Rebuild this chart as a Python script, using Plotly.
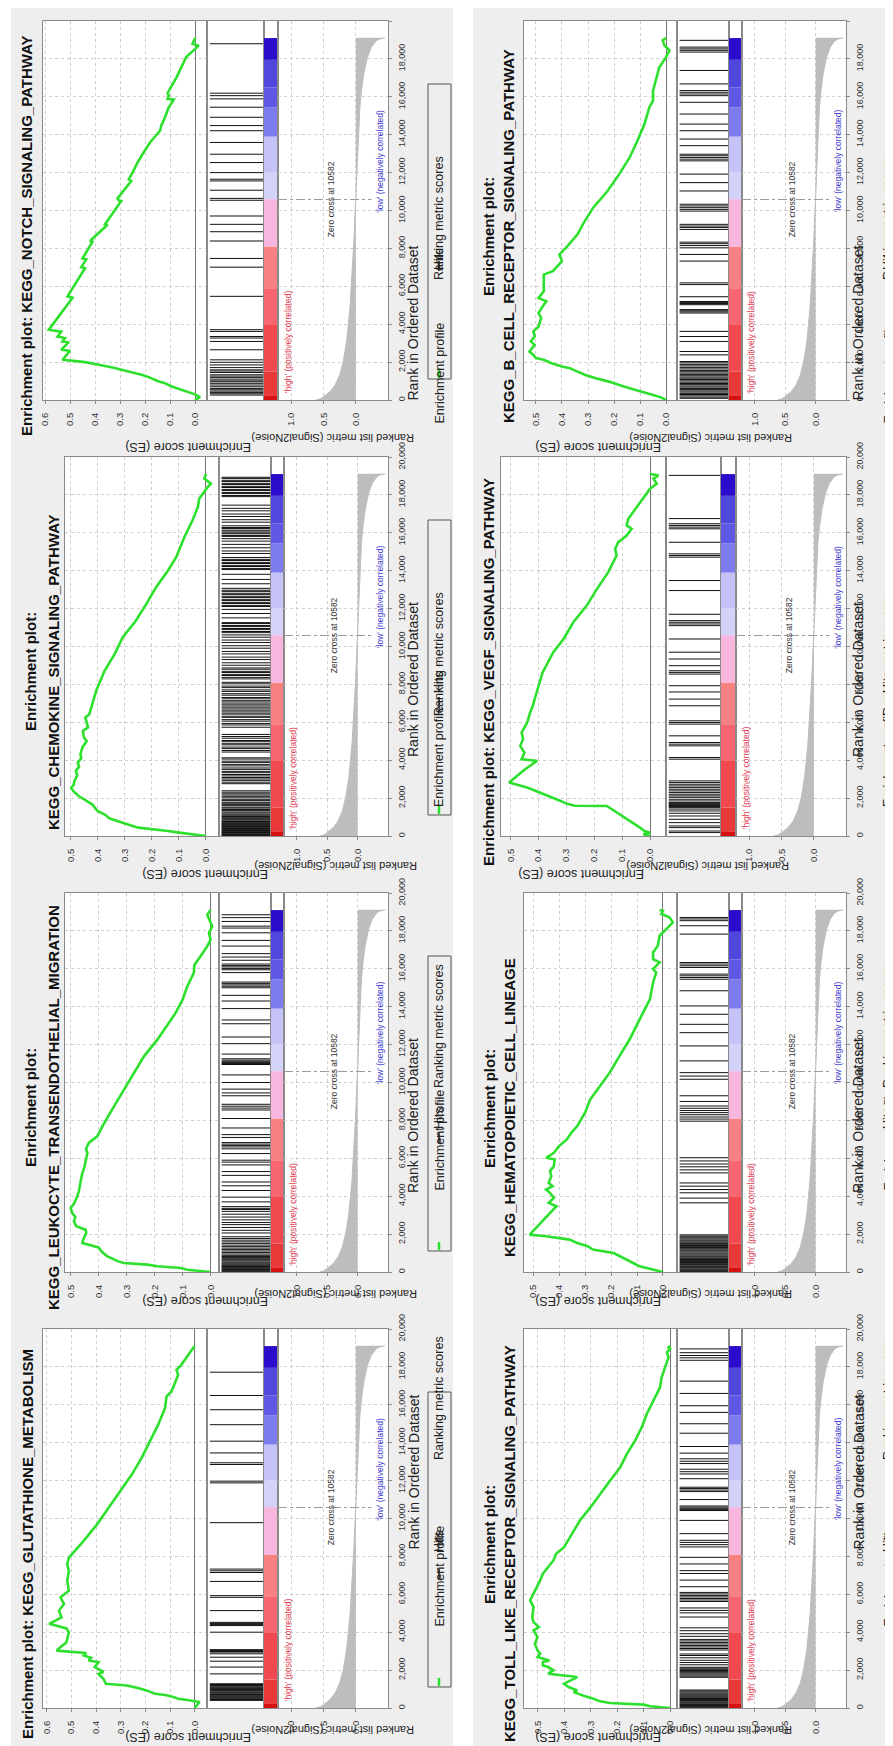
import plotly.graph_objects as go

FIG_W, FIG_H = 893, 1746
FONT = "Liberation Sans, Arial, sans-serif"

# ---------------- shared data ----------------
rank_tick_vals = [0, 2000, 4000, 6000, 8000, 10000, 12000, 14000, 16000, 18000, 20000]
rank_tick_text = ["0", "2,000", "4,000", "6,000", "8,000", "10,000", "12,000", "14,000", "16,000", "18,000", "20,000"]
metric_tick_vals = [1.0, 0.5, 0.0]
metric_tick_text = ["1.0", "0.5", "0.0"]
zero_cross_rank = 10582

metric_rank = [0, 60, 176, 441, 794, 1324, 2030, 3089, 4854, 6620, 8385, 10150, 10582, 11915,
               13680, 15446, 16328, 17211, 18094, 18623, 18976, 19060, 19110]
metric_value = [0.62, 0.55, 0.50, 0.40, 0.32, 0.25, 0.195, 0.144, 0.092, 0.056, 0.031, 0.01, 0.0, -0.015,
                -0.036, -0.062, -0.087, -0.123, -0.18, -0.24, -0.32, -0.38, -0.45]

cbar_start = [0, 250, 1500, 4000, 5900, 8100, 10600, 12000, 13900, 15450, 16500, 17950]
cbar_end = [250, 1500, 4000, 5900, 8100, 10600, 12000, 13900, 15450, 16500, 17950, 19100]
cbar_color = ["#d81010", "#e83838", "#f04a50", "#f86672", "#f88282", "#f7b6de",
              "#d4d2f8", "#c4c2f6", "#7c7cee", "#5e58e4", "#5048dc", "#2a0ccc"]

# ---------------- per-panel data ----------------
notch_title = ["Enrichment plot: KEGG_NOTCH_SIGNALING_PATHWAY"]
notch_es_rank = [0, 150, 300, 440, 560, 700, 880, 1000, 1180, 1320, 1450, 1590, 1710, 1850, 2000, 2120, 2600,
                 2650, 3050, 3090, 3270, 3350, 3600, 3700, 5400, 5470, 6950, 7010, 7420, 7470, 8350, 8390, 9250,
                 9270, 10500, 10540, 10640, 11560, 11650, 12000, 12530, 12970, 13590, 14210, 14480, 14920, 15450,
                 15850, 15890, 16060, 16190, 17000, 18100, 18700, 18800, 19100]
notch_es = [0.0, -0.02, 0.0, 0.035, 0.06, 0.09, 0.12, 0.15, 0.18, 0.21, 0.25, 0.29, 0.33, 0.38, 0.44, 0.53, 0.50,
            0.535, 0.505, 0.53, 0.52, 0.55, 0.535, 0.585, 0.49, 0.51, 0.44, 0.455, 0.435, 0.45, 0.41, 0.42, 0.35,
            0.36, 0.295, 0.305, 0.31, 0.255, 0.265, 0.25, 0.23, 0.21, 0.18, 0.14, 0.135, 0.12, 0.105,
            0.085, 0.11, 0.105, 0.11, 0.075, 0.035, -0.015, 0.01, 0.0]
notch_hits = [260, 330, 400, 470, 540, 610, 700, 790, 880, 960, 1010, 1100, 1180, 1260, 1330, 1450, 1530, 1590,
              1710, 1850, 1990, 2120, 2650, 3090, 3270, 3350, 3620, 3710, 5470, 7010, 7470, 8390, 8880, 9270,
              9710, 10540, 10640, 11070, 11560, 11650, 12000, 12530, 12970, 13590, 14210, 14480, 14920, 15450,
              15890, 16060, 16190, 18800]

chem_title = ["Enrichment plot:", "KEGG_CHEMOKINE_SIGNALING_PATHWAY"]
chem_es_rank = [0, 90, 180, 260, 350, 440, 530, 620, 700, 790, 900, 970, 1100, 1320, 1500, 1670, 1940, 2110, 2380,
                2560, 2700, 2910, 3200, 3440, 3650, 3880, 4100, 4320, 4700, 5000, 5200, 5550, 5730, 6000, 6260,
                6430, 6960, 7670, 8720, 9600, 10490, 11370, 12250, 13130, 14010, 14710, 15770, 16650, 17360,
                17800, 18410, 18590, 18860, 19100]
chem_es = [0.0, 0.06, 0.10, 0.14, 0.20, 0.25, 0.27, 0.29, 0.31, 0.33, 0.35, 0.36, 0.37, 0.40, 0.41, 0.42, 0.45,
           0.47, 0.49, 0.497, 0.488, 0.485, 0.475, 0.48, 0.468, 0.473, 0.46, 0.463, 0.455, 0.44, 0.45, 0.454, 0.435,
           0.44, 0.445, 0.43, 0.42, 0.405, 0.374, 0.337, 0.307, 0.258, 0.22, 0.184, 0.14, 0.11, 0.08, 0.05, 0.03,
           0.025, -0.006, -0.018, 0.006, 0.0]
chem_hits = [15, 45, 80, 110, 150, 185, 215, 250, 290, 320, 355, 395, 430, 470, 500, 540, 575, 615, 650, 690, 730,
             765, 800, 860, 915, 985, 1030, 1095, 1150, 1215, 1265, 1340, 1395, 1470, 1520, 1600, 1655, 1730, 1780,
             1865, 1915, 2010, 2075, 2160, 2225, 2310, 2385, 2760, 2840, 2935, 3010, 3085, 3170, 3245, 3340, 3410,
             3515, 3590, 3700, 3780, 3885, 3950, 4060, 4125, 4430, 4510, 4610, 4690, 4810, 4870, 4975, 5040, 5160,
             5250, 5360, 5740, 5860, 5940, 6060, 6140, 6260, 6320, 6430, 6490, 6590, 6650, 6750, 6810, 6910, 6970,
             7070, 7140, 7240, 7310, 7430, 7510, 7630, 7710, 7830, 7910, 8030, 8110, 8290, 8370, 8470, 8530, 8630,
             8690, 8800, 8870, 9010, 9140, 9310, 9440, 9610, 9740, 9910, 10040, 10210, 10340, 10490, 10610, 10730,
             10790, 10890, 10950, 11050, 11110, 11210, 11260, 11510, 11740, 11960, 12110, 12170, 12270, 12330,
             12430, 12490, 12590, 12650, 12750, 12810, 12910, 12970, 13070, 13310, 13540, 13810, 14060, 14120,
             14220, 14280, 14380, 14440, 14540, 14600, 14700, 14910, 15040, 15210, 15390, 15560, 15690, 15810,
             15860, 15950, 16000, 16090, 16140, 16230, 16280, 16370, 16560, 16690, 16860, 16990, 17160, 17290,
             17460, 17910, 17970, 18070, 18130, 18230, 18290, 18390, 18450, 18550, 18610, 18710, 18770, 18870, 18930]

leuk_title = ["Enrichment plot:", "KEGG_LEUKOCYTE_TRANSENDOTHELIAL_MIGRATION"]
leuk_es_rank = [0, 120, 210, 300, 390, 475, 560, 650, 740, 830, 960, 1090, 1300, 1530, 1700, 1880, 2060, 2230, 2410,
                2670, 2900, 3110, 3380, 3600, 3990, 4300, 4700, 5100, 5580, 5900, 6280, 6500, 6810, 7160, 7860,
                8740, 9620, 10500, 11380, 12260, 13140, 13670, 14370, 15080, 15780, 16200, 16660, 17190, 17540,
                17890, 18240, 18590, 18850, 19100]
leuk_es = [0.0, 0.083, 0.107, 0.19, 0.226, 0.31, 0.33, 0.345, 0.36, 0.37, 0.38, 0.39, 0.40, 0.458, 0.455, 0.45,
           0.444, 0.446, 0.48, 0.488, 0.483, 0.494, 0.50, 0.488, 0.476, 0.47, 0.464, 0.46, 0.45, 0.445, 0.44, 0.445,
           0.435, 0.405, 0.38, 0.345, 0.31, 0.274, 0.238, 0.19, 0.149, 0.125, 0.10, 0.083, 0.06, 0.058, 0.036,
           0.012, 0.0, 0.006, -0.006, 0.006, 0.012, 0.0]
leuk_hits = [15, 50, 90, 130, 170, 210, 250, 290, 330, 380, 430, 480, 530, 590, 650, 700, 760, 820, 880, 950, 1030,
             1110, 1180, 1260, 1340, 1420, 1510, 1590, 1680, 1770, 1860, 2060, 2200, 2350, 2500, 2610, 2750, 2900,
             3050, 3200, 3300, 3360, 3450, 3700, 3950, 4300, 4550, 4750, 5100, 5300, 5650, 5800, 5900, 6250, 6500,
             6600, 6680, 6750, 6830, 7100, 7250, 7600, 8100, 8550, 8650, 8750, 8850, 9300, 9450, 9650, 10000,
             10400, 10950, 11000, 11060, 11120, 11180, 11250, 11500, 12050, 12400, 13100, 13300, 13900, 14300,
             14600, 15000, 15080, 15150, 15230, 15300, 15800, 15950, 16020, 16100, 16170, 16250, 16450, 16620,
             16800, 17200, 17500, 17900, 18150, 18250, 18500, 18700, 18850]

glut_title = ["Enrichment plot: KEGG_GLUTATHIONE_METABOLISM"]
glut_es_rank = [0, 320, 420, 490, 600, 670, 750, 850, 930, 1050, 1190, 1280, 1540, 1800, 1900, 2160, 2420, 2510,
                2650, 2770, 2900, 3030, 3470, 4000, 4200, 4440, 4780, 5140, 5490, 5840, 6190, 6710, 7240, 7590,
                7940, 8820, 9690, 10570, 11450, 12320, 13200, 14080, 14950, 15830, 16440, 16700, 17580, 17840,
                18110, 18980, 19100]
glut_es = [0.0, -0.02, 0.03, 0.067, 0.09, 0.114, 0.16, 0.18, 0.195, 0.23, 0.275, 0.36, 0.37, 0.39, 0.37, 0.405,
           0.39, 0.43, 0.42, 0.45, 0.44, 0.56, 0.52, 0.51, 0.52, 0.59, 0.54, 0.55, 0.53, 0.544, 0.51, 0.517, 0.51,
           0.517, 0.51, 0.45, 0.396, 0.349, 0.302, 0.255, 0.215, 0.181, 0.148, 0.12, 0.114, 0.094, 0.067, 0.074,
           0.054, 0.007, 0.0]
glut_hits = [400, 450, 490, 540, 580, 620, 670, 710, 750, 800, 840, 890, 930, 980, 1020, 1060, 1100, 1150, 1190,
             1240, 1280, 1800, 2160, 2470, 2680, 2860, 2950, 2980, 3030, 3080, 4000, 4350, 4400, 4440, 4470, 4520,
             5140, 5840, 5930, 6680, 7150, 7240, 7330, 9780, 11880, 11970, 12850, 12940, 13460, 14080, 14950,
             15740, 16490, 17720]

bcell_title = ["Enrichment plot:", "KEGG_B_CELL_RECEPTOR_SIGNALING_PATHWAY"]
bcell_es_rank = [0, 140, 265, 440, 620, 790, 970, 1150, 1320, 1500, 1680, 1770, 1940, 2120, 2210, 2380, 2560, 2910,
                 3090, 3350, 3620, 3880, 4330, 4590, 4850, 5030, 5210, 5380, 5740, 6090, 6620, 6800, 7330, 7680,
                 8030, 8740, 9270, 10150, 11030, 11920, 12800, 13680, 14560, 15450, 15800, 16330, 17210, 17560,
                 18090, 18450, 18710, 18980, 19100]
bcell_es = [0.0, 0.02, 0.05, 0.10, 0.14, 0.18, 0.22, 0.27, 0.31, 0.34, 0.37, 0.40, 0.44, 0.47, 0.50, 0.51, 0.525,
            0.505, 0.52, 0.505, 0.51, 0.49, 0.48, 0.49, 0.48, 0.47, 0.46, 0.49, 0.47, 0.47, 0.47, 0.435, 0.40, 0.41,
            0.385, 0.34, 0.32, 0.28, 0.225, 0.18, 0.14, 0.11, 0.083, 0.064, 0.05, 0.05, 0.032, 0.026, 0.0, -0.013,
            0.006, 0.013, 0.0]
bcell_hits = [90, 150, 220, 290, 350, 420, 480, 550, 610, 680, 740, 810, 870, 940, 1010, 1080, 1150, 1210, 1280,
              1350, 1420, 1490, 1560, 1640, 1720, 1800, 1880, 1960, 2030, 2380, 2560, 3090, 3350, 3620, 4590, 4650,
              4710, 4770, 5030, 5090, 5150, 5200, 5450, 6090, 6180, 7330, 7680, 8030, 8150, 8250, 8330, 9000, 9100,
              9180, 9270, 9970, 10060, 10150, 10240, 10330, 11030, 11470, 11920, 12620, 12710, 12800, 12890,
              12970, 13420, 13770, 14210, 14560, 15090, 15710, 16060, 16150, 16240, 16330, 16680, 17390, 18360,
              18450, 18530, 18620, 18980]

vegf_title = ["Enrichment plot: KEGG_VEGF_SIGNALING_PATHWAY"]
vegf_es_rank = [0, 90, 176, 260, 441, 617, 793, 969, 1145, 1410, 1586, 1600, 1710, 1850, 2030, 2200, 2330, 2430,
                2560, 2640, 2820, 3500, 3965, 4053, 4405, 4758, 5110, 5463, 5991, 6500, 6872, 7400, 7930, 8634,
                9692, 10396, 11278, 12159, 13040, 13921, 14802, 15154, 15507, 15859, 16211, 16388, 16740, 17093,
                17974, 18326, 18590, 18855, 19031, 19100]
vegf_es = [0.0, 0.024, 0.0, 0.02, 0.036, 0.054, 0.072, 0.09, 0.108, 0.138, 0.155, 0.27, 0.30, 0.32, 0.35, 0.38,
           0.40, 0.42, 0.44, 0.46, 0.505, 0.45, 0.405, 0.46, 0.45, 0.465, 0.455, 0.46, 0.44, 0.43, 0.42, 0.41, 0.40,
           0.385, 0.347, 0.31, 0.275, 0.227, 0.19, 0.15, 0.12, 0.125, 0.114, 0.084, 0.066, 0.084, 0.078, 0.06,
           0.018, 0.0, -0.024, -0.012, -0.03, 0.0]
vegf_hits = [180, 264, 441, 529, 705, 881, 1057, 1200, 1322, 1420, 1498, 1560, 1586, 1620, 1655, 1690, 1730, 1762,
             1850, 1938, 2040, 2115, 2203, 2291, 2380, 2467, 2555, 2643, 2731, 2819, 2907, 4053, 4141, 4758, 4846,
             4934, 5286, 5903, 5991, 6079, 6872, 7225, 7600, 7930, 8546, 8634, 8722, 8987, 9339, 9700, 10396,
             11101, 11189, 11278, 11366, 11700, 12952, 13480, 14714, 14802, 14890, 15500, 16211, 16300, 16388,
             16476, 16750, 19031]

hema_title = ["Enrichment plot:", "KEGG_HEMATOPOIETIC_CELL_LINEAGE"]
hema_es_rank = [0, 123, 300, 476, 652, 828, 1004, 1181, 1357, 1533, 1709, 1885, 1974, 3471, 3648, 3912, 4176,
                4352, 4529, 4705, 5057, 5322, 5586, 5938, 6026, 6291, 6643, 6996, 7348, 7700, 8405, 9110, 9815,
                10520, 11401, 12282, 13163, 13868, 14396, 15278, 15806, 15982, 16335, 16511, 16863, 17216, 17744,
                18097, 18449, 18714, 18890, 19066, 19100]
hema_es = [0.0, 0.038, 0.09, 0.115, 0.14, 0.16, 0.19, 0.27, 0.29, 0.33, 0.36, 0.45, 0.513, 0.41, 0.44, 0.42,
           0.435, 0.45, 0.425, 0.44, 0.43, 0.435, 0.42, 0.417, 0.45, 0.42, 0.40, 0.37, 0.353, 0.33, 0.30, 0.28,
           0.244, 0.205, 0.167, 0.128, 0.096, 0.07, 0.05, 0.038, 0.026, 0.038, 0.013, 0.038, 0.038, 0.02, 0.013,
           -0.013, -0.038, -0.025, 0.006, 0.0, 0.013]
hema_hits = [20, 70, 120, 170, 230, 280, 330, 390, 440, 500, 550, 610, 660, 720, 780, 830, 890, 950, 1000, 1060,
             1120, 1170, 1230, 1290, 1340, 1400, 1460, 1510, 1570, 1630, 1680, 1740, 1800, 1850, 1900, 1960, 3650,
             3900, 4180, 4350, 4530, 4700, 5230, 5390, 5550, 5700, 5860, 6030, 7960, 8070, 8180, 8300, 8410, 8520,
             8640, 8760, 9000, 9300, 10170, 10340, 10520, 11140, 11930, 12630, 13070, 13600, 14040, 14840, 15450,
             15540, 15630, 15720, 16070, 16160, 16250, 16330, 17830, 18270, 18540, 18630, 18710]

toll_title = ["Enrichment plot:", "KEGG_TOLL_LIKE_RECEPTOR_SIGNALING_PATHWAY"]
toll_es_rank = [0, 88, 176, 264, 351, 492, 615, 756, 844, 931, 1107, 1283, 1634, 1810, 1986, 2162, 2250, 2425,
                2513, 2689, 2865, 3040, 3392, 3743, 4095, 4271, 4534, 4798, 5325, 5677, 6028, 6380, 6731, 7083,
                7434, 7786, 8137, 8489, 9192, 9895, 10598, 11301, 12004, 12707, 13409, 14112, 14815, 15518, 16221,
                16924, 17452, 17979, 18506, 18770, 18946, 19034, 19100]
toll_es = [0.0, 0.075, 0.10, 0.226, 0.264, 0.289, 0.32, 0.35, 0.364, 0.35, 0.383, 0.40, 0.35, 0.46, 0.44, 0.46,
           0.48, 0.48, 0.455, 0.50, 0.49, 0.50, 0.51, 0.50, 0.515, 0.495, 0.515, 0.52, 0.515, 0.528, 0.515, 0.50,
           0.49, 0.48, 0.46, 0.44, 0.43, 0.40, 0.37, 0.34, 0.30, 0.264, 0.226, 0.188, 0.163, 0.132, 0.107, 0.088,
           0.063, 0.038, 0.032, 0.019, 0.006, 0.012, 0.0, 0.006, 0.0]
toll_hits = [10, 50, 90, 130, 180, 220, 270, 310, 360, 400, 450, 500, 540, 590, 640, 690, 740, 790, 850, 900, 950,
             1620, 1680, 1740, 1800, 1860, 1920, 1980, 2040, 2100, 2150, 2280, 2400, 2520, 2650, 2770, 2850, 3060,
             3140, 3220, 3300, 3380, 3460, 3540, 3620, 3780, 3920, 4080, 4230, 4800, 5020, 5150, 5280, 5620, 5700,
             5780, 5860, 5940, 6020, 6100, 6400, 6750, 7100, 7250, 7600, 7950, 8500, 8620, 8740, 8850, 9200, 9900,
             10420, 10480, 10540, 10600, 10660, 11000, 11420, 11500, 11580, 11650, 12100, 12350, 12470, 12600,
             12900, 13020, 13150, 13450, 13800, 14500, 15000, 15600, 15950, 16600, 17250, 18350, 18480, 18600,
             18750, 18950]

# ---------------- layout geometry (pixels) ----------------
KINDS = {
    "L1": dict(cx=0, title_x=[19], es=(35, 199), hits=(199, 256), cb=(256, 270), met=(270, 380), rt=405, lg=420),
    "L2": dict(cx=0, title_x=[22, 45], es=(57, 211), hits=(211, 263), cb=(263, 276), met=(276, 380), rt=405, lg=420),
    "R1": dict(cx=445, title_x=[35], es=(48, 213), hits=(213, 268), cb=(268, 283), met=(283, 393), rt=415, lg=433),
    "R2": dict(cx=445, title_x=[36, 56], es=(71, 224), hits=(224, 276), cb=(276, 289), met=(289, 393), rt=415, lg=433),
}

panels = [
    dict(title=notch_title, kind="L1", oy=0, es_range=[0.608, -0.048], r=notch_es_rank, v=notch_es, hits=notch_hits),
    dict(title=chem_title, kind="L2", oy=436, es_range=[0.52, -0.048], r=chem_es_rank, v=chem_es, hits=chem_hits),
    dict(title=leuk_title, kind="L2", oy=872, es_range=[0.52, -0.03], r=leuk_es_rank, v=leuk_es, hits=leuk_hits),
    dict(title=glut_title, kind="L1", oy=1308, es_range=[0.615, -0.05], r=glut_es_rank, v=glut_es, hits=glut_hits),
    dict(title=bcell_title, kind="R2", oy=0, es_range=[0.546, -0.042], r=bcell_es_rank, v=bcell_es, hits=bcell_hits),
    dict(title=vegf_title, kind="R1", oy=436, es_range=[0.534, -0.057], r=vegf_es_rank, v=vegf_es, hits=vegf_hits),
    dict(title=hema_title, kind="R2", oy=872, es_range=[0.535, -0.054], r=hema_es_rank, v=hema_es, hits=hema_hits),
    dict(title=toll_title, kind="R2", oy=1308, es_range=[0.551, -0.026], r=toll_es_rank, v=toll_es, hits=toll_hits),
]

FRAME = "#8a8a8a"
GRID = "#cfcfcf"
TXT = "#222222"
METRIC_RANGE = [1.205, -0.497]


def PX(x):
    return x / FIG_W


def PY(y):
    return 1 - y / FIG_H


def xr(k):
    return "x" if k == 1 else f"x{k}"


def yr(k):
    return "y" if k == 1 else f"y{k}"


def xk(k):
    return "xaxis" if k == 1 else f"xaxis{k}"


def yk(k):
    return "yaxis" if k == 1 else f"yaxis{k}"


traces = []
layout = {}
annotations = []
shapes = []

# white gaps around the gray panel columns
shapes.append(dict(type="rect", xref="paper", yref="paper", x0=0, x1=PX(3), y0=0, y1=1,
                   fillcolor="white", line=dict(width=0), layer="below"))
shapes.append(dict(type="rect", xref="paper", yref="paper", x0=PX(445), x1=PX(465), y0=0, y1=1,
                   fillcolor="white", line=dict(width=0), layer="below"))

for i, p in enumerate(panels):
    g = KINDS[p["kind"]]
    cx, oy = g["cx"], p["oy"]
    ydom = [PY(oy + 392), PY(oy + 13)]
    kes, khit, kcb, kmet = 4 * i + 1, 4 * i + 2, 4 * i + 3, 4 * i + 4

    def dom(seg):
        return [PX(cx + seg[0]), PX(cx + seg[1])]

    frame = dict(showline=True, mirror=True, linecolor=FRAME, linewidth=1)
    # ---- ES subplot ----
    layout[xk(kes)] = dict(domain=dom(g["es"]), anchor=yr(kes), range=p["es_range"], tick0=0, dtick=0.1,
                           tickformat=".1f", tickangle=-90, ticks="outside", ticklen=3, tickcolor=FRAME,
                           ticklabelstandoff=5, tickfont=dict(size=9.5, color="#333", family=FONT),
                           showgrid=True, gridcolor=GRID, griddash="dot", zeroline=True,
                           zerolinecolor="#777777", zerolinewidth=1, **frame)
    layout[yk(kes)] = dict(domain=ydom, anchor=xr(kes), range=[0, 20000], tickvals=rank_tick_vals,
                           showticklabels=False, ticks="", showgrid=True, gridcolor=GRID, griddash="dot",
                           zeroline=False, **frame)
    traces.append(go.Scatter(x=p["v"], y=p["r"], mode="lines", line=dict(color="#2ee02e", width=2.6),
                             xaxis=xr(kes), yaxis=yr(kes), hoverinfo="skip"))

    # ---- hits + colour bar subplots ----
    for k, seg in ((khit, g["hits"]), (kcb, g["cb"])):
        layout[xk(k)] = dict(domain=dom(seg), anchor=yr(k), range=[0, 1], showticklabels=False, ticks="",
                             showgrid=False, zeroline=False, **frame)
        layout[yk(k)] = dict(domain=ydom, anchor=xr(k), range=[0, 20000], showticklabels=False, ticks="",
                             showgrid=False, zeroline=False, **frame)
    hx, hy = [], []
    for h in p["hits"]:
        hx += [0.05, 1.0, None]
        hy += [h, h, None]
    traces.append(go.Scatter(x=hx, y=hy, mode="lines", line=dict(color="#111111", width=1),
                             xaxis=xr(khit), yaxis=yr(khit), hoverinfo="skip"))
    traces.append(go.Bar(x=[0.5] * len(cbar_start), y=[e - s for s, e in zip(cbar_start, cbar_end)],
                         base=cbar_start, width=1.0, marker=dict(color=cbar_color, line=dict(width=0)),
                         xaxis=xr(kcb), yaxis=yr(kcb), hoverinfo="skip"))

    # ---- ranked metric ----
    layout[xk(kmet)] = dict(domain=dom(g["met"]), anchor=yr(kmet), range=METRIC_RANGE,
                            tickvals=metric_tick_vals, ticktext=metric_tick_text, tickangle=-90,
                            ticks="outside", ticklen=3, tickcolor=FRAME, ticklabelstandoff=5,
                            tickfont=dict(size=9.5, color="#333", family=FONT), showgrid=True, gridcolor=GRID,
                            griddash="dot", zeroline=False, **frame)
    layout[yk(kmet)] = dict(domain=ydom, anchor=xr(kmet), side="right", range=[0, 20000],
                            tickvals=rank_tick_vals, ticktext=rank_tick_text, tickangle=-90, ticks="outside",
                            ticklen=3, tickcolor=FRAME, ticklabelstandoff=2,
                            tickfont=dict(size=9, color="#333", family=FONT), showgrid=True, gridcolor=GRID,
                            griddash="dot", zeroline=False, **frame)
    traces.append(go.Scatter(x=metric_value, y=metric_rank, mode="lines", fill="tozerox", fillcolor="#bdbdbd",
                             line=dict(color="#bdbdbd", width=1), xaxis=xr(kmet), yaxis=yr(kmet),
                             hoverinfo="skip"))
    traces.append(go.Scatter(x=[METRIC_RANGE[0], -0.24], y=[zero_cross_rank, zero_cross_rank], mode="lines",
                             line=dict(color="#9a9a9a", width=1, dash="dashdot"), xaxis=xr(kmet),
                             yaxis=yr(kmet), hoverinfo="skip"))
    annotations += [
        dict(text="'high' (positively correlated)", x=1.05, y=3050, xref=xr(kmet), yref=yr(kmet),
             textangle=-90, showarrow=False, font=dict(size=8.5, color="#e03c50", family=FONT)),
        dict(text="Zero cross at 10582", x=0.374, y=zero_cross_rank, xref=xr(kmet), yref=yr(kmet),
             textangle=-90, showarrow=False, font=dict(size=8.5, color="#333", family=FONT)),
        dict(text="'low' (negatively correlated)", x=-0.37, y=12620, xref=xr(kmet), yref=yr(kmet),
             textangle=-90, showarrow=False, font=dict(size=8.5, color="#3c3cd0", family=FONT)),
    ]

    # ---- titles ----
    for tx, line in zip(g["title_x"], p["title"]):
        annotations.append(dict(text=f"<b>{line}</b>", x=PX(cx + tx), y=PY(oy + 228), xref="paper",
                                yref="paper", textangle=-90, showarrow=False, xanchor="center",
                                yanchor="middle", font=dict(size=15, color="#111", family=FONT)))
    es_c = cx + (g["es"][0] + g["es"][1]) / 2 - 2
    met_c = cx + (g["met"][0] + g["met"][1]) / 2
    annotations += [
        dict(text="Enrichment score (ES)", x=PX(es_c), y=PY(oy + 430), xref="paper", yref="paper",
             textangle=180, showarrow=False, font=dict(size=12.5, color=TXT, family=FONT)),
        dict(text="Ranked list metric (Signal2Noise)", x=PX(met_c), y=PY(oy + 422), xref="paper",
             yref="paper", textangle=180, showarrow=False, font=dict(size=11, color=TXT, family=FONT)),
        dict(text="Rank in Ordered Dataset", x=PX(cx + g["rt"]), y=PY(oy + 236), xref="paper", yref="paper",
             textangle=-90, showarrow=False, font=dict(size=14, color=TXT, family=FONT)),
    ]

    # ---- legend box ----
    lx = cx + g["lg"]
    shapes.append(dict(type="rect", xref="paper", yref="paper", x0=PX(lx), x1=PX(lx + 23), y0=PY(oy + 371),
                       y1=PY(oy + 76), line=dict(color="#555", width=1), fillcolor="rgba(0,0,0,0)"))
    for (y0, y1, col, wd) in ((362, 370, "#2ee02e", 2.5), (253, 263, "#111", 1.5), (213, 223, "#c8c8c8", 1.5)):
        shapes.append(dict(type="line", xref="paper", yref="paper", x0=PX(lx + 11), x1=PX(lx + 11),
                           y0=PY(oy + y0), y1=PY(oy + y1), line=dict(color=col, width=wd)))
    for txt, yc in (("Enrichment profile", 313), ("Hits", 238), ("Ranking metric scores", 146)):
        annotations.append(dict(text=txt, x=PX(lx + 11), y=PY(oy + yc), xref="paper", yref="paper",
                                textangle=-90, showarrow=False, font=dict(size=12.5, color=TXT, family=FONT)))

fig = go.Figure(data=traces)
fig.update_layout(**layout)
fig.update_layout(template="none", width=FIG_W, height=FIG_H, autosize=False,
                  margin=dict(l=0, r=0, t=0, b=0), paper_bgcolor="#eeeeee", plot_bgcolor="white",
                  showlegend=False, barmode="overlay", hovermode=False,
                  annotations=annotations, shapes=shapes, font=dict(family=FONT))
fig.write_html("out.html")
